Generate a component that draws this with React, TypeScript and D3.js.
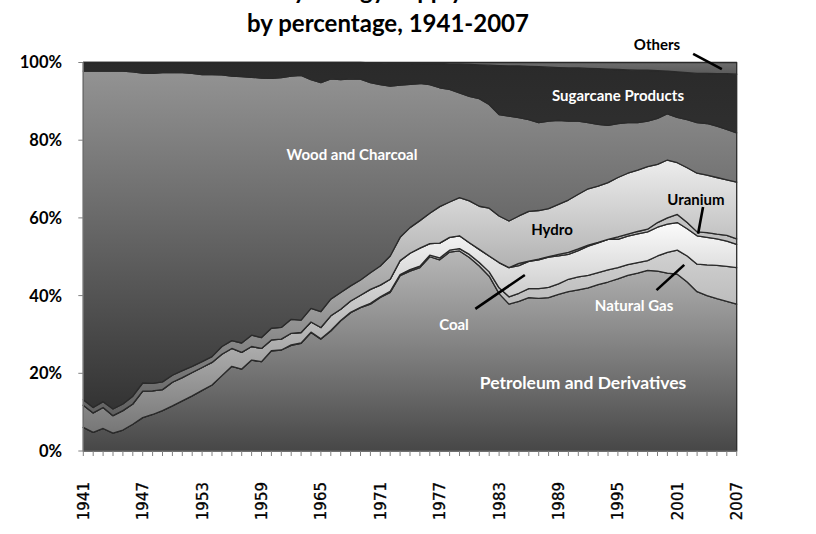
import React from 'react';
import * as d3 from 'd3';

const startYear = 1941;
const endYear = 2007;

const seriesNames = [
  'Petroleum and Derivatives',
  'Natural Gas',
  'Coal',
  'Uranium',
  'Hydro',
  'Wood and Charcoal',
  'Sugarcane Products',
  'Others',
];

const petroleum = [
  6.1, 4.8, 5.8, 4.6, 5.4, 6.9, 8.6, 9.4, 10.4, 11.6,
  12.9, 14.2, 15.6, 17.0, 19.4, 21.8, 21.1, 23.4, 23.0, 25.8,
  26.0, 27.2, 27.7, 30.5, 28.8, 30.9, 33.5, 35.6, 36.9, 37.8,
  39.5, 40.8, 45.1, 46.3, 47.2, 50.0, 49.2, 51.2, 51.5, 49.8,
  47.6, 45.0, 40.5, 37.8, 38.5, 39.5, 39.3, 39.5, 40.3, 41.0,
  41.5, 42.0, 42.8, 43.5, 44.3, 45.2, 45.8, 46.5, 46.3, 45.8,
  45.5, 43.5, 41.0, 40.0, 39.2, 38.5, 37.8,
];
const naturalGas = [
  0, 0, 0, 0, 0, 0, 0, 0, 0, 0,
  0, 0, 0, 0, 0, 0, 0, 0, 0, 0,
  0, 0.1, 0.1, 0.1, 0.1, 0.1, 0.1, 0.1, 0.1, 0.2,
  0.2, 0.3, 0.3, 0.4, 0.4, 0.4, 0.5, 0.5, 0.6, 0.8,
  0.9, 1.1, 1.5, 1.9, 2.1, 2.3, 2.5, 2.6, 2.7, 3.2,
  3.3, 3.2, 3.1, 3.1, 2.9, 2.8, 2.7, 2.5, 3.9, 5.3,
  6.2, 6.7, 7.1, 7.9, 8.6, 9.0, 9.4,
];
const coal = [
  5.7, 5.0, 5.4, 4.5, 5.0, 5.2, 6.8, 6.1, 5.4, 6.1,
  6.0, 6.0, 5.9, 5.8, 5.5, 4.6, 4.3, 3.5, 3.4, 2.8,
  2.8, 3.0, 2.7, 2.6, 2.9, 3.8, 2.9, 2.9, 3.1, 3.6,
  3.0, 3.1, 3.6, 4.2, 4.6, 3.0, 3.8, 3.3, 3.3, 3.0,
  3.4, 4.1, 6.5, 7.5, 7.1, 7.0, 7.4, 7.8, 7.2, 6.4,
  6.8, 7.5, 7.7, 7.9, 7.3, 7.3, 7.4, 7.4, 7.4, 7.3,
  7.1, 7.0, 7.3, 7.1, 6.8, 6.5, 6.0,
];
const uranium = [
  0, 0, 0, 0, 0, 0, 0, 0, 0, 0,
  0, 0, 0, 0, 0, 0, 0, 0, 0, 0,
  0, 0, 0, 0, 0, 0, 0, 0, 0, 0,
  0, 0, 0, 0, 0, 0, 0, 0, 0, 0,
  0, 0, 0, 0, 0.6, 0.1, 0.2, 0.1, 0.4, 0.5,
  0.4, 0.3, 0.1, 0.0, 0.6, 0.5, 0.6, 0.7, 1.2, 1.6,
  2.1, 1.6, 1.0, 1.2, 1.2, 1.5, 1.4,
];
const hydro = [
  1.4, 1.4, 1.5, 1.7, 1.7, 2.0, 2.1, 1.9, 2.0, 1.8,
  1.8, 1.6, 1.5, 1.5, 2.0, 2.0, 2.4, 2.9, 2.8, 3.0,
  3.0, 3.6, 3.2, 3.5, 4.1, 4.3, 4.3, 3.9, 3.9, 4.3,
  4.9, 6.0, 6.0, 6.6, 7.1, 7.8, 9.4, 9.1, 9.8, 10.8,
  11.1, 12.3, 12.0, 12.0, 12.2, 12.8, 12.5, 12.4, 12.9, 13.5,
  14.1, 14.5, 14.5, 14.6, 15.3, 15.7, 15.8, 16.1, 15.0, 14.9,
  13.3, 14.1, 15.1, 14.8, 14.6, 14.3, 14.6,
];
const wood = [
  84.6, 86.6, 85.1, 87.0, 85.7, 83.5, 79.8, 79.8, 79.6, 77.9,
  76.7, 75.4, 73.9, 72.6, 69.9, 68.1, 68.6, 66.4, 66.8, 64.3,
  64.3, 62.6, 63.0, 58.9, 58.9, 56.7, 54.8, 53.3, 51.7, 48.9,
  46.7, 43.7, 39.2, 36.9, 35.3, 33.1, 30.6, 29.0, 27.0, 26.9,
  27.7, 26.7, 26.1, 27.0, 25.3, 23.6, 22.6, 22.5, 21.6, 20.3,
  18.8, 17.0, 15.9, 14.7, 13.9, 13.0, 12.2, 11.7, 11.8, 11.9,
  11.7, 12.4, 13.0, 13.3, 13.2, 13.0, 12.7,
];
const sugarcane = [
  2.2, 2.2, 2.2, 2.2, 2.2, 2.4, 2.7, 2.8, 2.6, 2.6,
  2.6, 2.8, 3.1, 3.1, 3.2, 3.5, 3.6, 3.8, 4.0, 4.1,
  3.9, 3.5, 3.3, 4.4, 5.2, 4.2, 4.4, 4.2, 4.3, 5.1,
  5.6, 5.9, 5.6, 5.4, 5.1, 5.4, 6.2, 6.5, 7.4, 8.2,
  8.7, 10.1, 12.6, 12.9, 13.3, 13.7, 14.4, 13.9, 13.6, 13.7,
  13.7, 14.0, 14.3, 14.5, 13.9, 13.6, 13.5, 13.1, 12.3, 11.0,
  11.7, 12.1, 12.7, 12.9, 13.5, 14.3, 15.1,
];
const others = [
  0, 0, 0, 0, 0, 0, 0, 0, 0, 0,
  0, 0, 0, 0, 0, 0, 0, 0, 0, 0,
  0, 0, 0, 0, 0, 0, 0, 0, 0, 0.1,
  0.1, 0.2, 0.2, 0.2, 0.3, 0.3, 0.3, 0.4, 0.4, 0.5,
  0.6, 0.7, 0.8, 0.9, 0.9, 1.0, 1.1, 1.2, 1.3, 1.4,
  1.4, 1.5, 1.6, 1.7, 1.8, 1.9, 2.0, 2.0, 2.1, 2.2,
  2.4, 2.6, 2.8, 2.8, 2.9, 2.9, 3.0,
];

const seriesValues = [petroleum, naturalGas, coal, uranium, hydro, wood, sugarcane, others];

const yTicks = [0, 0.2, 0.4, 0.6, 0.8, 1.0];
const xLabelYears = [1941, 1947, 1953, 1959, 1965, 1971, 1977, 1983, 1989, 1995, 2001, 2007];

const titleLine1 = 'Primary Energy Supply in Brazil';
const titleLine2 = 'by percentage, 1941-2007';

// gradient colours [top, bottom] per series
const fills: [string, string][] = [
  ['#b8b8b8', '#474747'],
  ['#d2d2d2', '#8a8a8a'],
  ['#fbfbfb', '#767676'],
  ['#c4c4c4', '#9a9a9a'],
  ['#ededed', '#5f5f5f'],
  ['#939393', '#333333'],
  ['#2a2a2a', '#2f2f2f'],
  ['#6c6c6c', '#5a5a5a'],
];

const W = 816;
const H = 534;
const LEFT = 83.3;
const RIGHT = 736.7;
const TOP = 62.5;
const BOTTOM = 451;

export default function App() {
  const years = d3.range(startYear, endYear + 1);
  const table = years.map((yr, i) => {
    const row: any = { year: yr };
    seriesNames.forEach((n, k) => (row[n] = seriesValues[k][i]));
    return row;
  });
  const stack = d3.stack<any>().keys(seriesNames).offset(d3.stackOffsetExpand);
  const layers = stack(table);

  const x = d3.scaleLinear().domain([startYear, endYear]).range([LEFT, RIGHT]);
  const y = d3.scaleLinear().domain([0, 1]).range([BOTTOM, TOP]);

  const area = d3
    .area<any>()
    .x((d) => x(d.data.year))
    .y0((d) => y(d[0]))
    .y1((d) => y(d[1]));

  const labelFont = 'Lato, "Open Sans", sans-serif';

  const arrow = (x1: number, y1: number, x2: number, y2: number, key: string) => (
    <line key={key} x1={x(x1)} y1={y(y1)} x2={x(x2)} y2={y(y2)} stroke="#000" strokeWidth={2.6} />
  );

  return (
    <svg
      width={W}
      height={H}
      viewBox={`0 0 ${W} ${H}`}
      style={{ position: 'absolute', left: 0, top: 0, background: '#fff' }}
    >
      <defs>
        {fills.map((f, i) => (
          <linearGradient key={i} id={`grad${i}`} x1="0" y1="0" x2="0" y2="1">
            <stop offset="0%" stopColor={f[0]} />
            <stop offset="100%" stopColor={f[1]} />
          </linearGradient>
        ))}
      </defs>
      <rect x={0} y={0} width={W} height={H} fill="#fff" />

      {/* title (first line sits above the top edge, as in the reference) */}
      <text x={388} y={-1.5} textAnchor="middle" fontFamily={labelFont} fontWeight={700} fontSize={24} fill="#000">
        {titleLine1}
      </text>
      <text x={388} y={32} textAnchor="middle" fontFamily={labelFont} fontWeight={700} fontSize={24} fill="#000">
        {titleLine2}
      </text>

      {/* areas */}
      {layers.map((layer, i) => (
        <path
          key={layer.key}
          d={area(layer) || ''}
          fill={`url(#grad${i})`}
          stroke="#2a2a2a"
          strokeWidth={1.3}
          strokeLinejoin="round"
        />
      ))}

      {/* y axis */}
      <line x1={LEFT} y1={TOP} x2={LEFT} y2={BOTTOM} stroke="#808080" strokeWidth={1} />
      {yTicks.map((t) => (
        <g key={t}>
          <line x1={LEFT - 5} y1={y(t)} x2={LEFT} y2={y(t)} stroke="#808080" strokeWidth={1} />
          <text
            x={62}
            y={y(t)}
            dy="0.36em"
            textAnchor="end"
            fontFamily={labelFont}
            fontWeight={700}
            fontSize={16.5}
            fill="#000"
          >
            {d3.format('.0%')(t)}
          </text>
        </g>
      ))}

      {/* x axis */}
      <line x1={LEFT} y1={BOTTOM} x2={RIGHT} y2={BOTTOM} stroke="#808080" strokeWidth={1} />
      {years.map((yr) => (
        <line key={yr} x1={x(yr)} y1={BOTTOM} x2={x(yr)} y2={BOTTOM + 5} stroke="#808080" strokeWidth={1} />
      ))}
      {xLabelYears.map((yr) => (
        <text
          key={yr}
          transform={`translate(${x(yr) + 5.5},${482}) rotate(-90)`}
          textAnchor="end"
          fontFamily='"DejaVu Sans", Verdana, sans-serif'
          fontSize={15}
          fill="#000"
          stroke="#000"
          strokeWidth={0.3}
        >
          {yr}
        </text>
      ))}

      {/* series labels */}
      <text x={352} y={160} textAnchor="middle" fontFamily={labelFont} fontWeight={700} fontSize={15} fill="#fff">
        Wood and Charcoal
      </text>
      <text x={618} y={101} textAnchor="middle" fontFamily={labelFont} fontWeight={700} fontSize={15} fill="#fff">
        Sugarcane Products
      </text>
      <text x={657} y={50} textAnchor="middle" fontFamily={labelFont} fontWeight={700} fontSize={15} fill="#000">
        Others
      </text>
      <text x={552} y={235} textAnchor="middle" fontFamily={labelFont} fontWeight={700} fontSize={15} fill="#000">
        Hydro
      </text>
      <text x={696} y={205} textAnchor="middle" fontFamily={labelFont} fontWeight={700} fontSize={15} fill="#000">
        Uranium
      </text>
      <text x={454} y={330} textAnchor="middle" fontFamily={labelFont} fontWeight={700} fontSize={15} fill="#fff">
        Coal
      </text>
      <text x={634} y={311} textAnchor="middle" fontFamily={labelFont} fontWeight={700} fontSize={15} fill="#fff">
        Natural Gas
      </text>
      <text x={583} y={389} textAnchor="middle" fontFamily={labelFont} fontWeight={700} fontSize={17.5} fill="#fff">
        Petroleum and Derivatives
      </text>

      {/* leader lines */}
      {arrow(1980.6, 0.366, 1985.6, 0.453, 'coal')}
      {arrow(1998.9, 0.414, 2001.7, 0.479, 'gas')}
      {arrow(2003.6, 0.628, 2003.1, 0.559, 'uranium')}
      {arrow(2002.6, 1.022, 2005.5, 0.983, 'others')}
    </svg>
  );
}
